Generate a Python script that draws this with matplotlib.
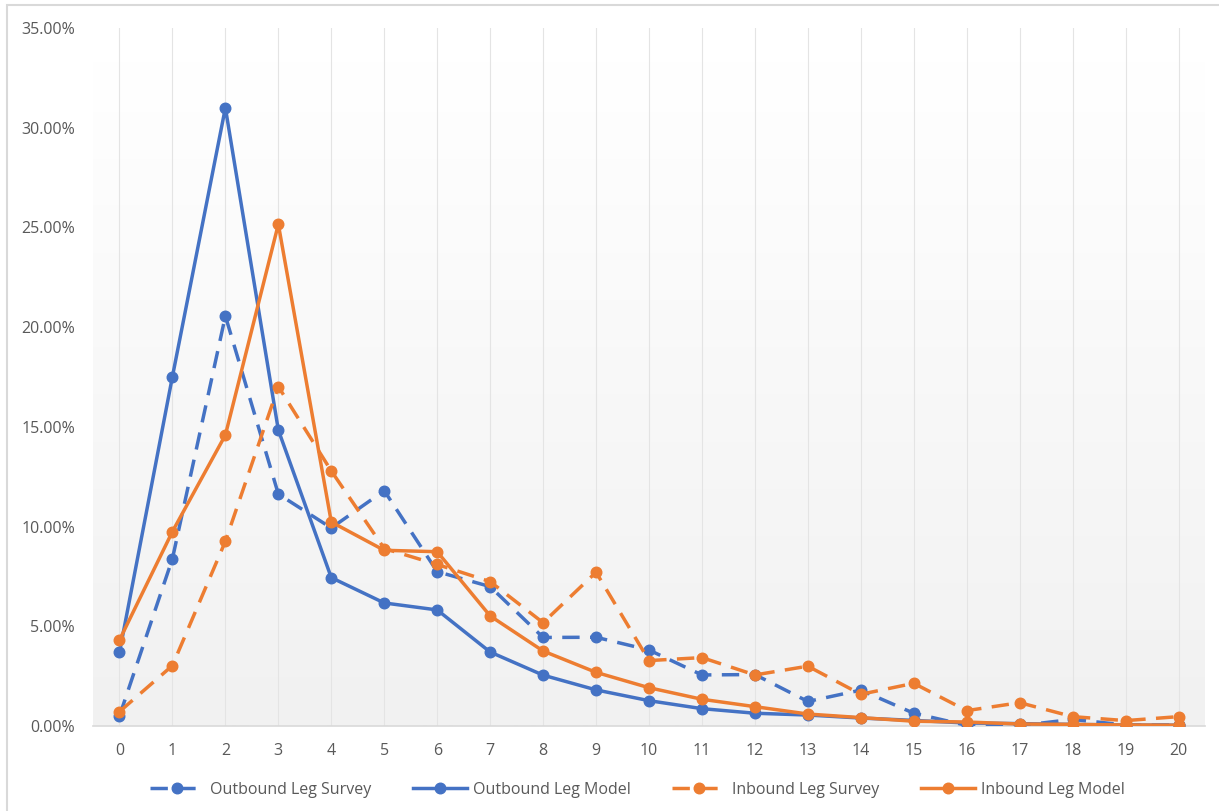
import matplotlib
matplotlib.use("Agg")
import matplotlib.pyplot as plt
import numpy as np
from matplotlib.patches import Rectangle
from matplotlib.ticker import FuncFormatter

categories = list(range(21))
outbound_survey = [0.50, 8.39, 20.56, 11.63, 9.93, 11.80, 7.74, 6.99, 4.44, 4.45, 3.81,
                   2.56, 2.58, 1.23, 1.80, 0.64, 0.03, 0.02, 0.33, 0.05, 0.05]
outbound_model = [3.69, 17.52, 31.00, 14.84, 7.44, 6.17, 5.82, 3.71, 2.55, 1.81, 1.27,
                  0.87, 0.64, 0.55, 0.40, 0.28, 0.15, 0.12, 0.08, 0.05, 0.04]
inbound_survey = [0.72, 3.03, 9.26, 17.02, 12.79, 8.90, 8.10, 7.24, 5.18, 7.71, 3.28,
                  3.43, 2.56, 3.00, 1.59, 2.14, 0.77, 1.17, 0.47, 0.27, 0.47]
inbound_model = [4.31, 9.75, 14.59, 25.16, 10.23, 8.81, 8.74, 5.52, 3.76, 2.69, 1.92,
                 1.34, 0.97, 0.60, 0.42, 0.24, 0.20, 0.10, 0.08, 0.05, 0.04]
series_names = ["Outbound Leg Survey", "Outbound Leg Model", "Inbound Leg Survey", "Inbound Leg Model"]
y_ticks = [0, 5, 10, 15, 20, 25, 30, 35]

BLUE = "#4472C4"
ORANGE = "#ED7D31"
TEXT = "#595959"
BORDER = "#D9D9D9"
GRID = "#E4E4E4"

plt.rcParams['font.family'] = ['Open Sans', 'DejaVu Sans']

fig = plt.figure(figsize=(12.19, 8.11), dpi=100)
fig.patch.set_facecolor("white")
fig.patches.append(Rectangle((7/1219, -0.1), 1.2, (811-5)/811 + 0.1, transform=fig.transFigure,
                             fill=False, edgecolor=BORDER, linewidth=1.5, zorder=0))

ax = fig.add_axes([93/1219, 85/811, 1112/1219, 698/811])

# gradient background (white at top, light grey at bottom); row 0 drawn at top
grad = np.linspace(0, 1, 256)
t = np.clip((grad - 0.05) / 0.95, 0, 1)
c_top = np.array([1.0, 1.0, 1.0])
c_bot = np.array([0xF1, 0xF1, 0xF1]) / 255.0
img = c_top[None, :] * (1 - t[:, None]) + c_bot[None, :] * t[:, None]
img = img[:, None, :]
ax.imshow(img, extent=[0, 1, 0, 1], transform=ax.transAxes, aspect='auto',
          origin='upper', zorder=0)
ax.set_xlim(-0.5, 20.5)
ax.set_ylim(0, 35)

for x in categories:
    ax.axvline(x, color=GRID, lw=0.8, zorder=1)

lw = 2.5
ms = 7.6
dash = (5.0, 3.0)
ax.plot(categories, outbound_survey, color=BLUE, lw=lw, ls=(0, dash), marker='o', ms=ms,
        label=series_names[0], zorder=3, dash_capstyle='butt')
ax.plot(categories, outbound_model, color=BLUE, lw=lw, marker='o', ms=ms,
        label=series_names[1], zorder=3)
ax.plot(categories, inbound_survey, color=ORANGE, lw=lw, ls=(0, dash), marker='o', ms=ms,
        label=series_names[2], zorder=3, dash_capstyle='butt')
ax.plot(categories, inbound_model, color=ORANGE, lw=lw, marker='o', ms=ms,
        label=series_names[3], zorder=3)

ax.set_xticks(categories)
ax.set_xticklabels([str(c) for c in categories])
ax.set_yticks(y_ticks)
ax.yaxis.set_major_formatter(FuncFormatter(lambda v, p: f"{v:.2f}%"))
ax.tick_params(axis='both', length=0, colors=TEXT, labelsize=11.5)
ax.tick_params(axis='x', pad=12)
ax.tick_params(axis='y', pad=13)
for s in ['top', 'right', 'left']:
    ax.spines[s].set_visible(False)
ax.spines['bottom'].set_color(BORDER)
ax.spines['bottom'].set_linewidth(1.2)
ax.spines['bottom'].set_zorder(2)

leg = fig.legend(loc='center', bbox_to_anchor=(0.523, 0.026), ncol=4, frameon=False,
                 fontsize=11.5, handlelength=3.4, handletextpad=0.35, columnspacing=2.6,
                 labelcolor=TEXT)

fig.savefig("out.png", dpi=100, facecolor="white")
